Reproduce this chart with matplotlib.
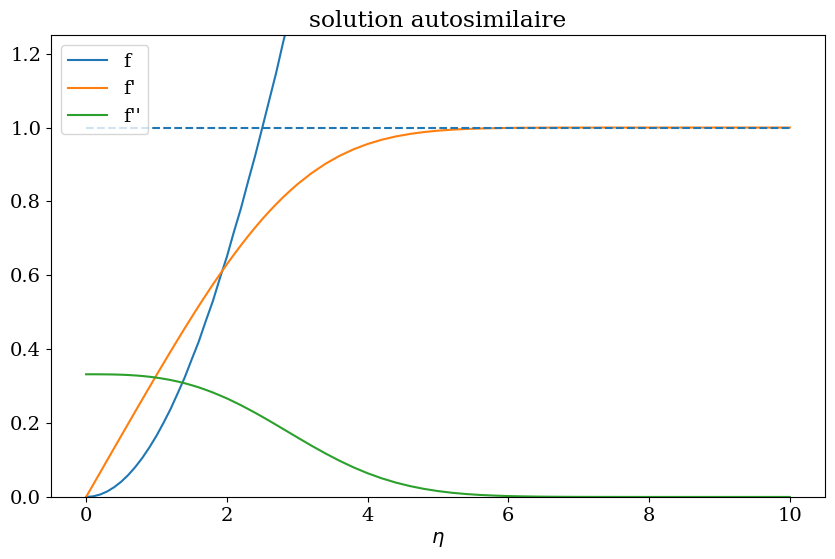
import matplotlib
matplotlib.use('Agg')
import matplotlib.pyplot as plt

plt.rcParams['font.family'] = 'DejaVu Serif'
plt.rcParams['font.size'] = 14

# valeurs
eta = [0.0, 0.1, 0.2, 0.3, 0.4, 0.5, 0.6, 0.7, 0.8, 0.9, 1.0, 1.1, 1.2, 1.3, 1.4,
       1.5, 1.6, 1.7, 1.8, 1.9, 2.0, 2.1, 2.2, 2.3, 2.4, 2.5, 2.6, 2.7, 2.8, 2.9,
       3.0, 3.2, 3.4, 3.6, 3.8, 4.0, 4.2, 4.4, 4.6, 4.8, 5.0, 5.2, 5.4, 5.6, 5.8,
       6.0, 6.2, 6.4, 6.6, 6.8, 7.0, 7.5, 8.0, 8.5, 9.0, 9.5, 10.0]
f = [0.0, 0.0017, 0.0066, 0.0149, 0.0266, 0.0415, 0.0597, 0.0813, 0.1061, 0.1344,
     0.1656, 0.2007, 0.2380, 0.2800, 0.3230, 0.3720, 0.4203, 0.4760, 0.5295, 0.5915,
     0.6500, 0.7175, 0.7812, 0.8530, 0.9223, 0.9968, 1.0725, 1.1478, 1.2310, 1.3080,
     1.3968, 1.5691, 1.7470, 1.9295, 2.1161,
     2.3058, 2.4981, 2.6924, 2.8883, 3.0853, 3.2833, 3.4819, 3.6809, 3.8803, 4.0799,
     4.2796, 4.4795, 4.6794, 4.8793, 5.0793, 5.2792, 5.7792, 6.2792, 6.7792, 7.2792,
     7.7792, 8.2792]
fp = [0.0, 0.0332, 0.0664, 0.0996, 0.1328, 0.1659, 0.1989, 0.2319, 0.2647, 0.2973,
      0.3298, 0.3619, 0.3938, 0.4252, 0.4563, 0.4868, 0.5168, 0.5461, 0.5748, 0.6026,
      0.6298, 0.6560, 0.6813, 0.7056, 0.7290, 0.7513, 0.7725, 0.7925, 0.8115, 0.8292,
      0.8461, 0.8761, 0.9018, 0.9233, 0.9411,
      0.9555, 0.9670, 0.9759, 0.9827, 0.9878, 0.9916, 0.9943, 0.9962, 0.9975, 0.9984,
      0.9990, 0.9994, 0.9996, 0.9998, 0.9999, 0.9999, 1.0, 1.0, 1.0, 1.0, 1.0, 1.0]
fpp = [0.3321, 0.3321, 0.3320, 0.3318, 0.3315, 0.3309, 0.3301, 0.3289, 0.3274, 0.3254,
       0.3230, 0.3200, 0.3166, 0.3125, 0.3079, 0.3025, 0.2967, 0.2900, 0.2829, 0.2750,
       0.2668, 0.2577, 0.2484, 0.2383, 0.2281, 0.2174, 0.2065, 0.1953, 0.1840, 0.1727,
       0.1614, 0.1391, 0.1179, 0.0981, 0.0801,
       0.0642, 0.0505, 0.0390, 0.0295, 0.0219, 0.0159, 0.0113, 0.0079, 0.0054, 0.0037,
       0.0024, 0.0016, 0.0010, 0.0006, 0.0004, 0.0002, 0.0001, 0.0, 0.0, 0.0, 0.0, 0.0]

fig = plt.figure(figsize=(8.35, 5.59), dpi=100)
fig.subplots_adjust(left=0.061, right=0.988, top=0.937, bottom=0.111)
plt.plot(eta, f, label='f')
plt.plot(eta, fp, label="f'")
plt.plot(eta, fpp, label="f''")
plt.plot([eta[0], eta[-1]], [1, 1], '--', color='C0')
plt.ylim(0, 1.25)
plt.xlabel(r'$\eta$')
plt.title('solution autosimilaire')
plt.legend(loc='upper left')
plt.savefig('out.png')
